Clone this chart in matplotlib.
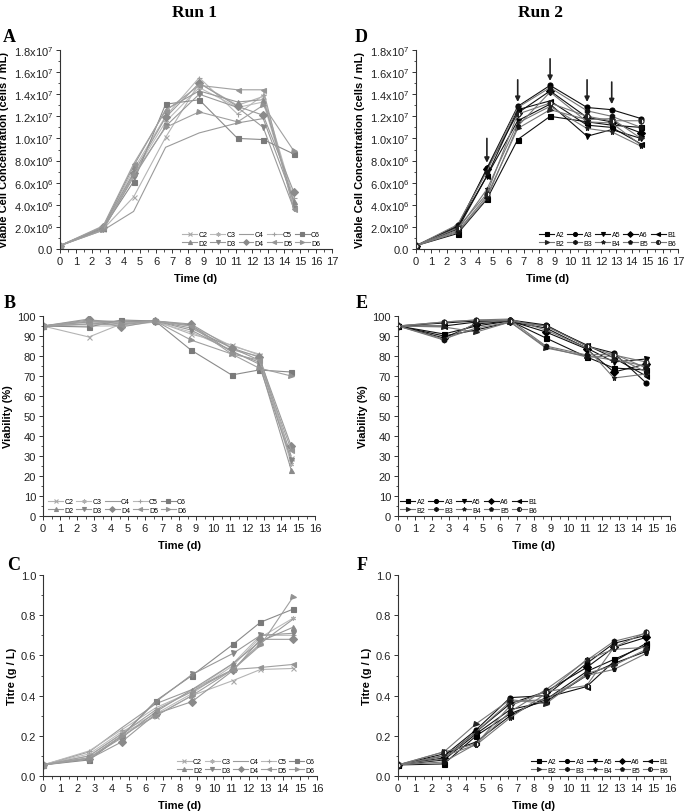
import matplotlib
matplotlib.use("Agg")
import matplotlib.pyplot as plt
from matplotlib.ticker import MultipleLocator, FixedLocator, FormatStrFormatter
import numpy as np

plt.rcParams['font.family'] = ['Liberation Sans', 'DejaVu Sans']
plt.rcParams['mathtext.default'] = 'regular'

# ---------------- data ----------------
time_d = [0, 2.7, 4.6, 6.6, 8.7, 11.1, 12.7, 14.6]

run1_names = ['C2', 'C3', 'C4', 'C5', 'C6', 'D2', 'D3', 'D4', 'D5', 'D6']
run2_names = ['A2', 'A3', 'A5', 'A6', 'B1', 'B2', 'B3', 'B4', 'B5', 'B6']

# Viable cell concentration (x10^6 cells/mL)
vcd_run1 = {
    'C2': [0.3, 1.8, 4.7, 10.1, 15.0, 13.0, 13.8, 3.9],
    'C3': [0.3, 1.9, 6.8, 11.5, 14.6, 12.8, 13.3, 4.1],
    'C4': [0.3, 1.7, 3.4, 9.2, 10.5, 11.4, 11.8, 4.4],
    'C5': [0.3, 2.0, 7.2, 12.0, 15.5, 12.2, 13.9, 4.6],
    'C6': [0.3, 1.9, 6.1, 13.1, 13.5, 10.0, 9.9, 8.6],
    'D2': [0.3, 2.0, 7.5, 12.6, 14.3, 13.3, 13.5, 4.3],
    'D3': [0.3, 1.8, 6.5, 11.1, 14.0, 12.8, 11.0, 3.7],
    'D4': [0.3, 2.0, 6.9, 11.9, 15.0, 12.9, 12.1, 5.2],
    'D5': [0.3, 2.1, 7.7, 12.5, 14.8, 14.4, 14.4, 3.6],
    'D6': [0.3, 1.7, 6.7, 11.0, 12.4, 11.5, 13.0, 8.9],
}
vcd_run2 = {
    'A2': [0.3, 1.4, 4.5, 9.9, 12.0, 11.5, 11.2, 11.0],
    'A3': [0.3, 1.9, 7.3, 12.9, 14.8, 12.8, 12.6, 11.8],
    'A5': [0.3, 2.0, 6.6, 11.6, 13.1, 10.2, 10.8, 10.0],
    'A6': [0.3, 2.1, 7.2, 12.3, 14.3, 11.9, 11.5, 10.5],
    'B1': [0.3, 1.8, 6.6, 12.6, 13.4, 11.2, 11.0, 9.5],
    'B2': [0.3, 1.6, 4.8, 10.9, 12.6, 11.7, 11.8, 10.0],
    'B3': [0.3, 2.2, 7.0, 12.8, 14.6, 12.5, 12.0, 11.0],
    'B4': [0.3, 1.7, 5.4, 11.4, 12.9, 10.9, 10.6, 9.3],
    'B5': [0.3, 1.5, 4.6, 11.1, 14.2, 11.5, 11.4, 9.4],
    'B6': [0.3, 1.9, 5.0, 12.2, 13.2, 12.0, 11.6, 11.6],
}
# Viability (%)
via_run1 = {
    'C2': [95, 89.5, 96, 97.5, 91, 85.5, 80.5, 29],
    'C3': [95, 95, 95, 97, 92, 83, 80, 26],
    'C4': [95, 96, 97, 97.5, 94, 84, 78, 30],
    'C5': [95, 97, 96.5, 97.5, 95, 85, 81, 28],
    'C6': [95, 94.5, 98, 97.5, 83, 70.5, 73, 72],
    'D2': [95, 97, 97.5, 97.5, 95.5, 82, 77, 23],
    'D3': [95, 98, 97, 97.5, 93, 82.5, 76, 28],
    'D4': [95, 98.5, 94.5, 97.5, 96, 84, 79.5, 35],
    'D5': [95, 96, 95.5, 97.5, 95, 81, 78, 33],
    'D6': [95, 97.5, 96, 97.5, 88, 81, 74, 70],
}
via_run2 = {
    'A2': [95, 91, 95, 97.5, 89, 79.5, 74, 73],
    'A3': [95, 96.5, 97.5, 98, 95.5, 85, 81.5, 66.5],
    'A5': [95, 90, 93, 97, 94, 84, 77, 78.5],
    'A6': [95, 89, 96, 97.5, 92, 83.5, 72, 76],
    'B1': [95, 95, 97, 97.5, 95, 85.5, 79, 70],
    'B2': [95, 94.5, 92, 97, 84, 80, 78, 75],
    'B3': [95, 88, 96.5, 98, 85, 80.5, 81, 74],
    'B4': [95, 97, 98, 98.5, 93, 84, 69, 71],
    'B5': [95, 88.5, 94, 97, 84.5, 79.5, 80, 72],
    'B6': [95, 97, 98, 97.5, 95, 85, 80.5, 77],
}
# Titre (g/L)
titre_run1 = {
    'C2': [0.055, 0.10, 0.21, 0.30, 0.40, 0.475, 0.53, 0.535],
    'C3': [0.055, 0.11, 0.22, 0.31, 0.41, 0.55, 0.69, 0.785],
    'C4': [0.055, 0.12, 0.24, 0.36, 0.43, 0.53, 0.66, 0.78],
    'C5': [0.055, 0.125, 0.23, 0.34, 0.42, 0.56, 0.70, 0.70],
    'C6': [0.055, 0.08, 0.20, 0.375, 0.50, 0.655, 0.765, 0.83],
    'D2': [0.055, 0.09, 0.19, 0.32, 0.43, 0.56, 0.67, 0.74],
    'D3': [0.055, 0.09, 0.20, 0.37, 0.505, 0.61, 0.70, 0.71],
    'D4': [0.055, 0.085, 0.17, 0.31, 0.37, 0.525, 0.68, 0.68],
    'D5': [0.055, 0.10, 0.21, 0.33, 0.42, 0.53, 0.54, 0.555],
    'D6': [0.055, 0.09, 0.20, 0.30, 0.40, 0.53, 0.65, 0.89],
}
titre_run2 = {
    'A2': [0.055, 0.06, 0.20, 0.31, 0.38, 0.52, 0.58, 0.65],
    'A3': [0.055, 0.10, 0.23, 0.39, 0.40, 0.56, 0.66, 0.70],
    'A5': [0.055, 0.08, 0.21, 0.33, 0.37, 0.50, 0.56, 0.62],
    'A6': [0.055, 0.09, 0.22, 0.36, 0.42, 0.54, 0.64, 0.69],
    'B1': [0.055, 0.11, 0.17, 0.30, 0.39, 0.445, 0.57, 0.66],
    'B2': [0.055, 0.12, 0.26, 0.38, 0.36, 0.51, 0.55, 0.63],
    'B3': [0.055, 0.07, 0.16, 0.32, 0.43, 0.575, 0.67, 0.71],
    'B4': [0.055, 0.10, 0.155, 0.29, 0.41, 0.58, 0.63, 0.64],
    'B5': [0.055, 0.085, 0.22, 0.37, 0.38, 0.50, 0.53, 0.61],
    'B6': [0.055, 0.12, 0.16, 0.35, 0.42, 0.45, 0.64, 0.715],
}

# feeding arrows in panel D (day, top, tip) in x10^6 cells/mL
arrow_days = [4.6, 6.6, 8.7, 11.1, 12.7]
arrow_tops = [10.0, 15.3, 17.2, 15.3, 15.1]
arrow_tips = [7.8, 13.3, 15.2, 13.3, 13.1]

vcd_ticklabels = ['0.0', '2.0x10$^6$', '4.0x10$^6$', '6.0x10$^6$', '8.0x10$^6$',
                  '1.0x10$^7$', '1.2x10$^7$', '1.4x10$^7$', '1.6x10$^7$', '1.8x10$^7$']

# ---------------- styles ----------------
style1 = {
    'C2': dict(marker='x', color='#a8a8a8', lc='#b4b4b4'),
    'C3': dict(marker=(6, 2, 0), color='#b0b0b0', lc='#bcbcbc'),
    'C4': dict(marker='None', color='#9a9a9a', lc='#9a9a9a'),
    'C5': dict(marker='+', color='#a0a0a0', lc='#b8b8b8'),
    'C6': dict(marker='s', color='#7a7a7a', lc='#8a8a8a'),
    'D2': dict(marker='^', color='#8a8a8a', lc='#999999'),
    'D3': dict(marker='v', color='#858585', lc='#999999'),
    'D4': dict(marker='D', color='#8a8a8a', lc='#9a9a9a'),
    'D5': dict(marker='<', color='#959595', lc='#a0a0a0'),
    'D6': dict(marker='>', color='#929292', lc='#a0a0a0'),
}
style2 = {
    'A2': dict(marker='s', color='#000000', lc='#111111'),
    'A3': dict(marker='o', color='#000000', lc='#111111'),
    'A5': dict(marker='v', color='#000000', lc='#111111'),
    'A6': dict(marker='D', color='#000000', lc='#111111'),
    'B1': dict(marker='<', color='#000000', lc='#111111'),
    'B2': dict(marker='>', color='#222222', lc='#777777'),
    'B3': dict(marker='h', color='#111111', lc='#777777'),
    'B4': dict(marker='*', color='#222222', lc='#777777'),
    'B5': dict(marker='p', color='#111111', lc='#777777'),
    'B6': dict(marker='o', color='#222222', lc='#777777', fillstyle='left'),
}

W, H = 685, 812
fig = plt.figure(figsize=(W / 100, H / 100), dpi=100)

def ax_at(l, r, t, b):
    return fig.add_axes([l / W, 1 - b / H, (r - l) / W, (b - t) / H])

def style_axes(ax, xmax):
    for s in ['top', 'right']:
        ax.spines[s].set_visible(False)
    for s in ['left', 'bottom']:
        ax.spines[s].set_linewidth(0.8)
        ax.spines[s].set_color('#333333')
    ax.set_xlim(0, xmax)
    ax.xaxis.set_major_locator(MultipleLocator(1))
    ax.xaxis.set_minor_locator(MultipleLocator(0.5))
    ax.tick_params(which='major', direction='out', length=3, width=0.7,
                   labelsize=8, colors='#333333', pad=2)
    ax.tick_params(which='minor', direction='out', length=1.8, width=0.6, colors='#333333')
    ax.tick_params(labelcolor='#222222')
    ax.set_xlabel('Time (d)', fontsize=8, fontweight='bold', labelpad=5)

def draw(ax, data, names, styles):
    handles = []
    for n in names:
        st = styles[n]
        col = st['color']
        fs = st.get('fillstyle', 'full')
        h, = ax.plot(time_d, data[n], color=st['lc'], lw=0.8, marker=st['marker'], ms=3.6,
                     mfc=col, mec=col, fillstyle=fs, markerfacecoloralt='white',
                     mew=0.8, label=n)
        handles.append(h)
    return handles

def legend(ax, handles, names, loc, anchor):
    # arrange so that rows read C2..C6 / D2..D6 (matplotlib fills columns first)
    order = []
    for c in range(5):
        order += [c, c + 5]
    hs = [handles[i] for i in order]
    ls = [names[i] for i in order]
    ax.legend(hs, ls, ncol=5, loc=loc, bbox_to_anchor=anchor, frameon=False,
              fontsize=5, handlelength=2.15, handletextpad=0.2, columnspacing=0.4,
              labelspacing=0.2, borderaxespad=0.0, markerscale=0.8, borderpad=0.35)

# Panel A
axA = ax_at(60, 332, 51, 250)
hA = draw(axA, {k: np.array(v) * 1e6 for k, v in vcd_run1.items()}, run1_names, style1)
axA.set_ylim(0, 1.8e7)
axA.yaxis.set_major_locator(FixedLocator(np.arange(0, 1.81e7, 2e6)))
axA.yaxis.set_minor_locator(MultipleLocator(1e6))
axA.set_yticklabels(vcd_ticklabels)
axA.set_ylabel('Viable Cell Concentration (cells / mL)', fontsize=8, fontweight='bold', labelpad=3)
style_axes(axA, 17)
legend(axA, hA, run1_names, 'lower right', (0.965, 0.0))

# Panel D
axD = ax_at(416, 678, 51, 250)
hD = draw(axD, {k: np.array(v) * 1e6 for k, v in vcd_run2.items()}, run2_names, style2)
axD.set_ylim(0, 1.8e7)
axD.yaxis.set_major_locator(FixedLocator(np.arange(0, 1.81e7, 2e6)))
axD.yaxis.set_minor_locator(MultipleLocator(1e6))
axD.set_yticklabels(vcd_ticklabels)
axD.set_ylabel('Viable Cell Concentration (cells / mL)', fontsize=8, fontweight='bold', labelpad=3)
style_axes(axD, 17)
legend(axD, hD, run2_names, 'lower right', (1.0, 0.0))
for d, t0, t1 in zip(arrow_days, arrow_tops, arrow_tips):
    axD.annotate('', xy=(d, t1 * 1e6), xytext=(d, t0 * 1e6),
                 arrowprops=dict(arrowstyle='-|>', color='#222222', lw=1.2,
                                 mutation_scale=7, shrinkA=0, shrinkB=0))

# Panel B
axB = ax_at(43, 315, 317, 517)
hB = draw(axB, via_run1, run1_names, style1)
axB.set_ylim(0, 100)
axB.yaxis.set_major_locator(MultipleLocator(10))
axB.yaxis.set_minor_locator(MultipleLocator(5))
axB.set_ylabel('Viability (%)', fontsize=8, fontweight='bold', labelpad=3)
style_axes(axB, 16)
legend(axB, hB, run1_names, 'lower left', (0.01, 0.0))

# Panel E
axE = ax_at(398, 670, 317, 517)
hE = draw(axE, via_run2, run2_names, style2)
axE.set_ylim(0, 100)
axE.yaxis.set_major_locator(MultipleLocator(10))
axE.yaxis.set_minor_locator(MultipleLocator(5))
axE.set_ylabel('Viability (%)', fontsize=8, fontweight='bold', labelpad=3)
style_axes(axE, 16)
legend(axE, hE, run2_names, 'lower left', (0.0, 0.0))

# Panel C
axC = ax_at(43, 317, 576, 777)
hC = draw(axC, titre_run1, run1_names, style1)
axC.set_ylim(0, 1.0)
axC.yaxis.set_major_locator(MultipleLocator(0.2))
axC.yaxis.set_minor_locator(MultipleLocator(0.1))
axC.yaxis.set_major_formatter(FormatStrFormatter('%.1f'))
axC.set_ylabel('Titre (g / L)', fontsize=8, fontweight='bold', labelpad=3)
style_axes(axC, 16)
legend(axC, hC, run1_names, 'lower right', (1.0, 0.0))

# Panel F
axF = ax_at(398, 670, 576, 777)
hF = draw(axF, titre_run2, run2_names, style2)
axF.set_ylim(0, 1.0)
axF.yaxis.set_major_locator(MultipleLocator(0.2))
axF.yaxis.set_minor_locator(MultipleLocator(0.1))
axF.yaxis.set_major_formatter(FormatStrFormatter('%.1f'))
axF.set_ylabel('Titre (g / L)', fontsize=8, fontweight='bold', labelpad=3)
style_axes(axF, 16)
legend(axF, hF, run2_names, 'lower right', (1.0, 0.0))

serif = ['Liberation Serif', 'DejaVu Serif']
fig.text(195 / W, 1 - 13 / H, 'Run 1', family=serif, fontsize=12.5, fontweight='bold',
         ha='center', va='center')
fig.text(540 / W, 1 - 13 / H, 'Run 2', family=serif, fontsize=12.5, fontweight='bold',
         ha='center', va='center')
for letter, (px, py) in zip('ABCDEF', [(9, 37), (10, 304), (14, 566), (361, 37), (362, 304), (362, 566)]):
    fig.text(px / W, 1 - py / H, letter, family=serif, fontsize=13, fontweight='bold',
             ha='center', va='center')

fig.savefig('out.png', dpi=100)
